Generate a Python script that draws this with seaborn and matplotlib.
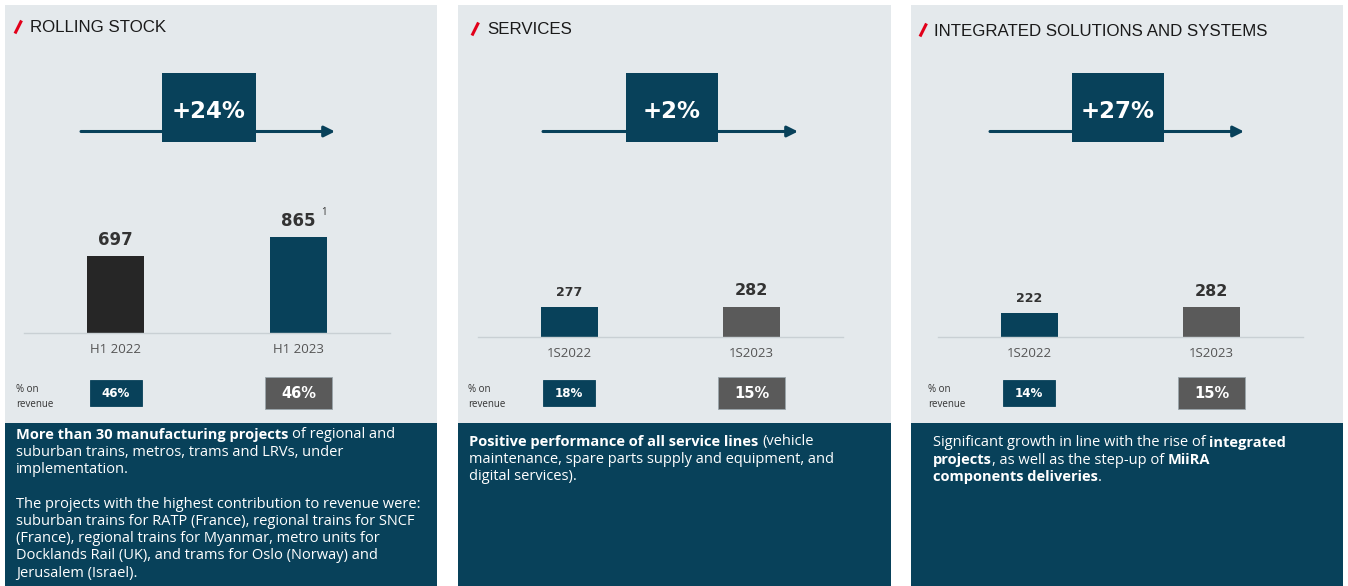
import matplotlib
matplotlib.use("Agg")
import matplotlib.pyplot as plt
import seaborn as sns
import pandas as pd
from matplotlib.patches import Rectangle

# ---------------- data ----------------
titles = ["ROLLING STOCK", "SERVICES", "INTEGRATED SOLUTIONS AND SYSTEMS"]
growth_labels = ["+24%", "+2%", "+27%"]

rs_periods = ["H1 2022", "H1 2023"]
rs_values = [697, 865]
rs_notes = ["", "1"]
rs_share = ["46%", "46%"]

sv_periods = ["1S2022", "1S2023"]
sv_values = [277, 282]
sv_notes = ["", ""]
sv_share = ["18%", "15%"]

is_periods = ["1S2022", "1S2023"]
is_values = [222, 282]
is_notes = ["", ""]
is_share = ["14%", "15%"]

share_caption = "% on\nrevenue"

rs_text = [
    [("More than 30 manufacturing projects", True), (" of regional and", False)],
    [("suburban trains, metros, trams and LRVs, under", False)],
    [("implementation.", False)],
    [],
    [("The projects with the highest contribution to revenue were:", False)],
    [("suburban trains for RATP (France), regional trains for SNCF", False)],
    [("(France), regional trains for Myanmar, metro units for", False)],
    [("Docklands Rail (UK), and trams for Oslo (Norway) and", False)],
    [("Jerusalem (Israel).", False)],
]
sv_text = [
    [("Positive performance of all service lines", True), (" (vehicle", False)],
    [("maintenance, spare parts supply and equipment, and", False)],
    [("digital services).", False)],
]
is_text = [
    [("Significant growth in line with the rise of ", False), ("integrated", True)],
    [("projects", True), (", as well as the step-up of ", False), ("MiiRA", True)],
    [("components deliveries", True), (".", False)],
]

# ---------------- style ----------------
BLUE = "#08415A"
CHARCOAL = "#262626"
GREY = "#5A5A5A"
PANEL = "#E4E9EC"
RED = "#E2001A"
TXT = "#333333"

W, H = 1348, 586
sns.set_style("white")
plt.rcParams["font.family"] = ["Open Sans", "DejaVu Sans"]

fig = plt.figure(figsize=(W / 100, H / 100), dpi=100, facecolor="white")
bg = fig.add_axes([0, 0, 1, 1])
bg.set_xlim(0, W)
bg.set_ylim(H, 0)
bg.axis("off")
renderer = fig.canvas.get_renderer()

panels = [
    dict(periods=rs_periods, values=rs_values, notes=rs_notes, share=rs_share,
         text=rs_text, colors=[CHARCOAL, BLUE], vsize=[12, 12]),
    dict(periods=sv_periods, values=sv_values, notes=sv_notes, share=sv_share,
         text=sv_text, colors=[BLUE, GREY], vsize=[9, 11.5]),
    dict(periods=is_periods, values=is_values, notes=is_notes, share=is_share,
         text=is_text, colors=[BLUE, GREY], vsize=[9, 11.5]),
]

panel_x = [(5, 437), (458, 891), (911, 1343)]
axis_x = [(24, 390), (478, 843), (938, 1303)]
baseline_y = [332.5, 336.5, 337]
px_per_unit = [0.11, 0.105, 0.106]
slash_x = [15, 472, 920]
title_x = [30, 487, 934]
title_y = [27, 29, 30]
box_x = [(162, 256), (626, 718), (1072, 1164)]
box_y = (73, 142)
arrow_x = [(81, 335), (543, 798), (990, 1244)]
arrow_y = 131.5
cap_x = [16, 468, 928]
text_x = [16, 469, 933]
text_y0 = [435, 442, 443]
LINE_DY = 17.25
DARK_TOP = 423


def text_width(s, size, weight, family="Open Sans"):
    t = bg.text(0, 0, s, fontsize=size, fontweight=weight, family=family)
    w = t.get_window_extent(renderer=renderer).width
    t.remove()
    return w

# fit body font size to the reference's widest line (~403 px)
BODY = 10 * 403 / text_width(rs_text[4][0][0], 10, "normal")
# fit title size to the reference's title widths
TITLE = 12 * (141 + 327) / (text_width(titles[0], 12, "normal", "Liberation Sans")
                            + text_width(titles[2], 12, "normal", "Liberation Sans"))


def rich(x0, y0, lines):
    for i, line in enumerate(lines):
        x = x0
        y = y0 + i * LINE_DY
        for s, bold in line:
            wt = "bold" if bold else "normal"
            sp = text_width("a a", BODY, wt) - text_width("aa", BODY, wt)
            lead = len(s) - len(s.lstrip(" "))
            trail = len(s) - len(s.rstrip(" "))
            core = s.strip(" ")
            x += lead * sp
            if core:
                bg.text(x, y, core, fontsize=BODY, fontweight=wt, color="white",
                        ha="left", va="center", family="Open Sans")
                x += text_width(core, BODY, wt)
            x += trail * sp


for k, p in enumerate(panels):
    x0, x1 = panel_x[k]
    # backgrounds
    bg.add_patch(Rectangle((x0, 5), x1 - x0, DARK_TOP - 5, color=PANEL, lw=0, zorder=0))
    bg.add_patch(Rectangle((x0, DARK_TOP), x1 - x0, H - DARK_TOP, color=BLUE, lw=0, zorder=0))

    # title with red slash
    sx = slash_x[k]
    ty = title_y[k]
    bg.plot([sx, sx + 6.5], [ty + 6.5, ty - 6.5], color=RED, lw=2.2, solid_capstyle="butt")
    bg.text(title_x[k], ty + 1, titles[k], fontsize=TITLE, color="#1A1A1A",
            family="Liberation Sans", ha="left", va="center")

    # growth arrow + box
    ax0, ax1 = arrow_x[k]
    bg.annotate("", xy=(ax1, arrow_y), xytext=(ax0, arrow_y),
                arrowprops=dict(arrowstyle="-|>", color=BLUE, lw=2.2,
                                mutation_scale=16, shrinkA=0, shrinkB=0))
    bx0, bx1 = box_x[k]
    bg.add_patch(Rectangle((bx0, box_y[0]), bx1 - bx0, box_y[1] - box_y[0],
                           color=BLUE, lw=0, zorder=3))
    bg.text((bx0 + bx1) / 2, (box_y[0] + box_y[1]) / 2 + 3.5, growth_labels[k],
            fontsize=16.5, fontweight="bold", color="white", family="DejaVu Sans",
            ha="center", va="center", zorder=4)

    # bar chart axes
    a0, a1 = axis_x[k]
    hgt = 1000 * px_per_unit[k]
    ax = fig.add_axes([a0 / W, 1 - baseline_y[k] / H, (a1 - a0) / W, hgt / H])
    ax.set_facecolor("none")
    df = pd.DataFrame({"period": p["periods"], "value": p["values"]})
    sns.barplot(data=df, x="period", y="value", hue="period", palette=p["colors"],
                width=0.314, saturation=1, legend=False, ax=ax, linewidth=0)
    ax.set_xlim(-0.5, 1.5)
    ax.set_ylim(0, 1000)
    ax.set_xlabel("")
    ax.set_ylabel("")
    ax.set_yticks([])
    for s in ["top", "left", "right"]:
        ax.spines[s].set_visible(False)
    ax.spines["bottom"].set_color("#C9D0D4")
    ax.spines["bottom"].set_linewidth(1)
    ax.tick_params(axis="x", length=0, pad=7.5, labelsize=9.5, labelcolor="#555555")
    for i, v in enumerate(p["values"]):
        fs = p["vsize"][i]
        off = 11.5 if fs > 10 else 10.5
        ax.annotate(f"{v}", xy=(i, v), xytext=(0, off), textcoords="offset points",
                    ha="center", va="center", fontsize=fs, fontweight="bold",
                    color=TXT, family="DejaVu Sans")
        if p["notes"][i]:
            ax.annotate(p["notes"][i], xy=(i, v), xytext=(18.5, 18),
                        textcoords="offset points", ha="center", va="center",
                        fontsize=7, color=TXT)

    # share of revenue boxes
    cx = [a0 + 0.25 * (a1 - a0), a0 + 0.75 * (a1 - a0)]
    specs = [(52, 380, 406, BLUE, 8.6), (67, 377, 409, GREY, 10.5)]
    for i, (bw, y0, y1, col, fs) in enumerate(specs):
        bg.add_patch(Rectangle((cx[i] - bw / 2, y0), bw, y1 - y0, facecolor=col,
                               edgecolor="#9AA5AB" if i else col, lw=0.6, zorder=2))
        bg.text(cx[i], (y0 + y1) / 2 + 0.5, p["share"][i], fontsize=fs, fontweight="bold",
                color="white", family="DejaVu Sans", ha="center", va="center", zorder=3)
    bg.text(cap_x[k], 397, share_caption, fontsize=7, color=TXT, ha="left",
            va="center", linespacing=1.45)

    # descriptive text
    rich(text_x[k], text_y0[k], p["text"])

fig.savefig("out.png", dpi=100, facecolor="white")
